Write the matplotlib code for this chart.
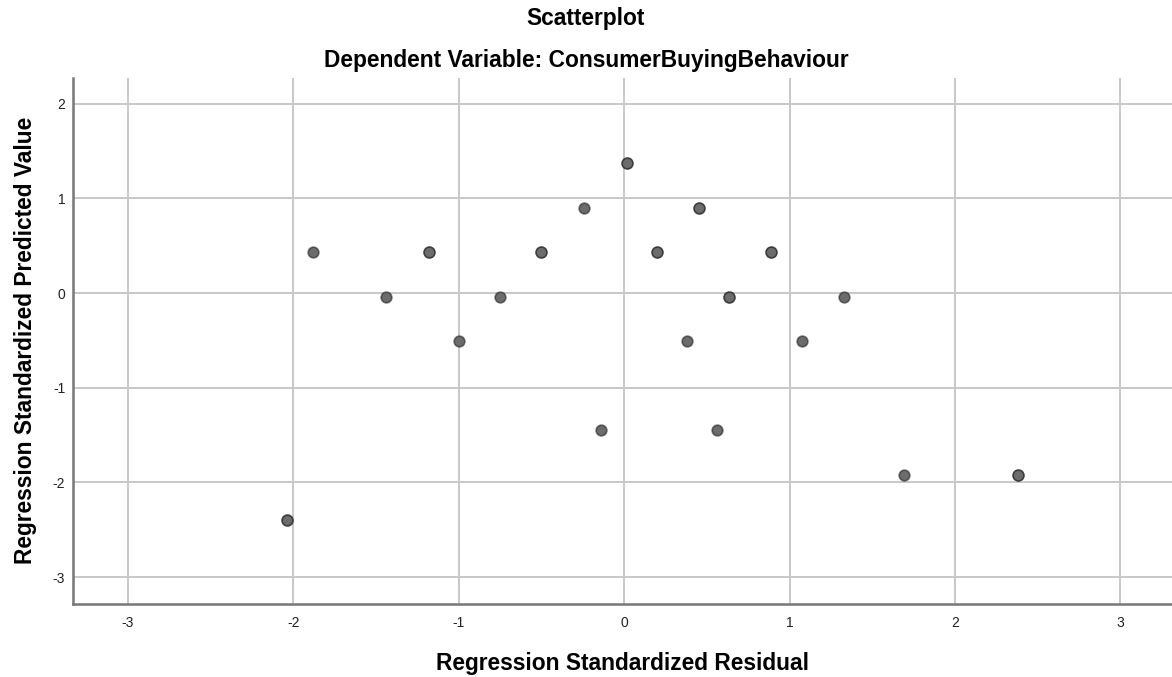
import numpy as np
import matplotlib.pyplot as plt

plt.rcParams['font.family'] = ['Liberation Sans', 'DejaVu Sans']
plt.rcParams['axes.unicode_minus'] = False

# standardized residuals and predicted values (repeated pairs are overlapping cases)
residual = [-2.04, -2.04, -1.88, -1.44, -1.18, -1.18, -1.00, -0.75, -0.50, -0.50,
            -0.24, 0.02, 0.02, -0.14, 0.20, 0.20, 0.455, 0.455, 0.635, 0.635,
            0.38, 0.89, 0.89, 1.075, 1.33, 0.56, 1.69, 2.38, 2.38]
predicted = [-2.40, -2.40, 0.43, -0.04, 0.43, 0.43, -0.51, -0.04, 0.43, 0.43,
             0.90, 1.37, 1.37, -1.45, 0.43, 0.43, 0.90, 0.90, -0.04, -0.04,
             -0.51, 0.43, 0.43, -0.51, -0.04, -1.45, -1.92, -1.92, -1.92]
xticks = [-3, -2, -1, 0, 1, 2, 3]
yticks = [-3, -2, -1, 0, 1, 2]

fig = plt.figure(figsize=(11.72, 6.77), dpi=100)
ax = fig.add_axes([0.0627, 0.1083, 0.9373, 0.7765])

ax.scatter(residual, predicted, s=60, facecolor='#6c6c6c',
           edgecolor=(0.1, 0.1, 0.1, 0.55), linewidth=1.2, zorder=3)

ax.set_xticks(xticks)
ax.set_yticks(yticks)
ax.set_xlim(-3.33, 3.313)
ax.set_ylim(-3.28, 2.27)
ax.grid(True, color='#c8c8c8', linewidth=1.4)
ax.set_axisbelow(True)
ax.tick_params(length=0, labelsize=10, colors='#222222')
ax.tick_params(axis='x', pad=9)
ax.tick_params(axis='y', pad=6)
for side in ['top', 'right']:
    ax.spines[side].set_visible(False)
for side in ['left', 'bottom']:
    ax.spines[side].set_color('#777777')
    ax.spines[side].set_linewidth(1.8)

ax.set_xlabel('Regression Standardized Residual', fontsize=16.4, fontweight='bold')
ax.xaxis.label.set_va('baseline')
ax.xaxis.set_label_coords(0.5, -0.126)
ax.set_ylabel('Regression Standardized Predicted Value', fontsize=16.4,
              fontweight='bold')
ax.yaxis.label.set_va('center')
ax.yaxis.set_label_coords(-0.044, 0.5)

fig.text(0.5, 1 - 25 / 677, 'Scatterplot', ha='center', va='baseline',
         fontsize=16.4, fontweight='bold')
fig.text(0.5, 1 - 67 / 677, 'Dependent Variable: ConsumerBuyingBehaviour',
         ha='center', va='baseline', fontsize=16.4, fontweight='bold')

fig.savefig('out.png', dpi=100)
